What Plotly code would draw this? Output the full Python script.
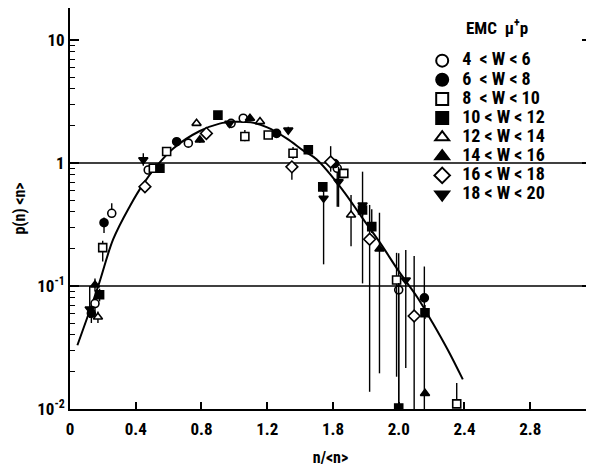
import plotly.graph_objects as go

# ---- data ----
labels = ["4  &lt; W &lt; 6", "6  &lt; W &lt; 8", "8  &lt; W &lt; 10", "10 &lt; W &lt; 12",
          "12 &lt; W &lt; 14", "14 &lt; W &lt; 16", "16 &lt; W &lt; 18", "18 &lt; W &lt; 20"]

w4_x = [0.152, 0.254, 0.476, 0.72, 0.98, 1.054, 1.626, 2.0]
w4_y = [0.072, 0.39, 0.877, 1.45, 2.1, 2.31, 0.905, 0.093]
w4_hi = [0.08, 0.47, 0.95, 1.55, 2.25, 2.45, 0.97, 0.185]
w4_lo = [0.062, 0.36, 0.81, 1.37, 1.97, 2.18, 0.44, 0.005]

w6_x = [0.13, 0.207, 0.649, 1.257, 1.61, 2.156]
w6_y = [0.06, 0.327, 1.49, 1.74, 0.99, 0.08]
w6_hi = [0.068, 0.36, 1.58, 1.85, 1.06, 0.144]
w6_lo = [0.05, 0.27, 1.41, 1.64, 0.93, 0.005]

w8_x = [0.199, 0.507, 0.588, 1.064, 1.206, 1.357, 1.666, 1.987, 2.353]
w8_y = [0.205, 0.905, 1.24, 1.64, 1.69, 1.2, 0.824, 0.112, 0.011]
w8_hi = [0.233, 0.97, 1.32, 1.85, 1.78, 1.35, 0.88, 0.186, 0.0163]
w8_lo = [0.158, 0.85, 1.16, 1.5, 1.6, 1.08, 0.75, 0.0183, 0.0105]

w10_x = [0.18, 0.547, 0.90, 1.45, 1.538, 1.78, 1.836, 2.0, 2.16]
w10_y = [0.085, 0.905, 2.45, 1.28, 0.64, 0.415, 0.304, 0.0102, 0.0606]
w10_hi = [0.095, 0.95, 2.6, 1.36, 0.7, 0.46, 0.42, 0.106, 0.07]
w10_lo = [0.075, 0.86, 2.3, 1.2, 0.58, 0.37, 0.27, 0.0102, 0.054]

w12_x = [0.17, 0.77, 1.156, 1.71]
w12_y = [0.056, 2.1, 2.17, 0.378]
w12_hi = [0.062, 2.2, 2.3, 0.55]
w12_lo = [0.05, 2.0, 2.05, 0.21]

w14_x = [0.152, 0.79, 1.095, 1.883, 2.16]
w14_y = [0.102, 1.54, 2.31, 0.20, 0.0134]
w14_hi = [0.115, 1.62, 2.45, 0.394, 0.0134]
w14_lo = [0.09, 1.46, 2.18, 0.0195, 0.0134]

w16_x = [0.456, 0.83, 1.35, 1.586, 1.823, 2.094]
w16_y = [0.642, 1.74, 0.93, 1.02, 0.24, 0.057]
w16_hi = [0.68, 1.82, 1.0, 1.37, 0.456, 0.175]
w16_lo = [0.6, 1.66, 0.73, 0.85, 0.0138, 0.005]

w18_x = [0.12, 0.446, 0.97, 1.328, 1.543, 1.634, 1.78, 2.043]
w18_y = [0.065, 1.06, 2.1, 1.85, 0.517, 0.705, 0.456, 0.112]
w18_hi = [0.1, 1.2, 2.2, 1.97, 0.6, 0.93, 0.85, 0.196]
w18_lo = [0.055, 0.95, 2.0, 1.75, 0.15, 0.44, 0.105, 0.0215]

curve_x = [0.045, 0.172, 0.263, 0.365, 0.446, 0.53, 0.63, 0.79, 0.91, 1.0, 1.1, 1.2,
           1.32, 1.42, 1.5, 1.66, 1.775, 1.887, 2.0, 2.113, 2.207, 2.30, 2.39]
curve_y = [0.033, 0.1, 0.24, 0.447, 0.676, 0.955, 1.32, 1.82, 2.09, 2.16, 2.14, 1.95,
           1.58, 1.26, 1.07, 0.60, 0.363, 0.224, 0.132, 0.081, 0.050, 0.030, 0.0174]

x_ticks = [0, 0.4, 0.8, 1.2, 1.6, 2.0, 2.4, 2.8]
x_ticktext = ["0", "0.4", "0.8", "1.2", "1.8", "2.0", "2.4", "2.8"]
y_ticks = [0.01, 0.1, 1, 10]
y_ticktext = ["10<sup>-2</sup>", "10<sup>-1</sup>", "1", "10"]

series = [
    (w4_x, w4_y, w4_hi, w4_lo, "circle", False),
    (w6_x, w6_y, w6_hi, w6_lo, "circle", True),
    (w8_x, w8_y, w8_hi, w8_lo, "square", False),
    (w10_x, w10_y, w10_hi, w10_lo, "square", True),
    (w12_x, w12_y, w12_hi, w12_lo, "triangle-up", False),
    (w14_x, w14_y, w14_hi, w14_lo, "triangle-up", True),
    (w16_x, w16_y, w16_hi, w16_lo, "diamond", False),
    (w18_x, w18_y, w18_hi, w18_lo, "triangle-down", True),
]

FONT = "Liberation Sans Narrow, Roboto Condensed, Liberation Sans, Arial"

fig = go.Figure()

fig.add_trace(go.Scatter(x=curve_x, y=curve_y, mode="lines",
                         line=dict(color="black", width=2, shape="spline", smoothing=1.0),
                         showlegend=False, hoverinfo="skip"))

for (xs, ys, hi, lo, sym, filled), lab in zip(series, labels):
    plus = [h - v for h, v in zip(hi, ys)]
    minus = [v - l for v, l in zip(ys, lo)]
    size = 8 if sym != "diamond" else 9
    fig.add_trace(go.Scatter(
        x=xs, y=ys, mode="markers",
        name='<span style="font-size:18px">' + lab + "</span>",
        marker=dict(symbol=sym, size=size, color="black" if filled else "white",
                    line=dict(color="black", width=1.6)),
        error_y=dict(type="data", array=plus, arrayminus=minus, symmetric=False,
                     color="black", thickness=1.4, width=0),
    ))

minor_vals = [m * 10 ** e for e in (-2, -1, 0, 1) for m in range(2, 10)]

# page has an 8px body margin: the figure is sized/offset to compensate
fig.update_layout(
    width=586, height=459,
    margin=dict(l=62, r=3, t=0, b=58, autoexpand=False),
    paper_bgcolor="white", plot_bgcolor="white",
    font=dict(family=FONT, size=16, color="black", weight="bold"),
    showlegend=True,
    legend=dict(x=0.676, y=0.905, xanchor="left", yanchor="top",
                bgcolor="rgba(0,0,0,0)", font=dict(size=12.4, family=FONT, weight="bold"),
                itemsizing="constant", tracegroupgap=0),
    xaxis=dict(range=[0, 3.17], tickmode="array", tickvals=x_ticks, ticktext=x_ticktext,
               ticks="inside", ticklen=7, tickwidth=1.5, tickcolor="black",
               showline=True, linecolor="black", linewidth=1.8, mirror=True,
               showgrid=False, zeroline=False, automargin=False, ticklabelstandoff=4,
               tickfont=dict(size=17, family=FONT, weight="bold"),
               title=dict(text="n/&lt;n&gt;", font=dict(size=16, family=FONT, weight="bold"),
                          standoff=16)),
    yaxis=dict(type="log", range=[-2, 1.26], tickmode="array", tickvals=y_ticks,
               ticktext=y_ticktext, ticks="inside", ticklen=9, tickwidth=1.5,
               tickcolor="black", showline=True, linecolor="black", linewidth=1.8,
               mirror="ticks", showgrid=False, zeroline=False, automargin=False,
               minor=dict(tickmode="array", tickvals=minor_vals, ticks="inside",
                          ticklen=5, tickwidth=1.3, tickcolor="black", showgrid=False),
               tickfont=dict(size=17, family=FONT, weight="bold"),
               title=dict(text="p(n) &lt;n&gt;", font=dict(size=16, family=FONT, weight="bold"),
                          standoff=8)),
    annotations=[dict(text="EMC  \u03bc<sup>+</sup>p", x=0.82, y=0.953, xref="paper",
                      yref="paper", showarrow=False,
                      font=dict(size=17, family=FONT, weight="bold"),
                      xanchor="center", yanchor="middle")],
    shapes=[dict(type="line", xref="paper", x0=0, x1=1, yref="y", y0=1, y1=1,
                 line=dict(color="black", width=1.6), layer="below"),
            dict(type="line", xref="paper", x0=0, x1=1, yref="y", y0=0.1, y1=0.1,
                 line=dict(color="black", width=1.6), layer="below")],
)

fig.write_html("out.html")
